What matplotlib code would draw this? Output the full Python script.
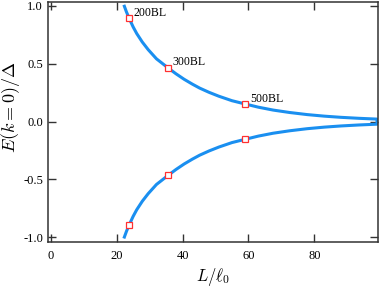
import numpy as np
import matplotlib
matplotlib.use("Agg")
import matplotlib.pyplot as plt

plt.rcParams['font.family'] = ['Liberation Serif', 'DejaVu Serif']
plt.rcParams['mathtext.fontset'] = 'cm'
plt.rcParams['axes.unicode_minus'] = False

# upper branch of the level (lower branch is its mirror)
length = [22.2, 23.0, 23.8, 25.0, 26.1, 27.8, 29.6, 32.1, 35.6, 38.0,
          40.5, 43.0, 45.2, 48.0, 51.0, 55.0, 59.1, 63.0, 67.5, 72.5,
          77.8, 83.0, 88.0, 93.5, 99.0]
energy = [1.01, 0.948, 0.894, 0.82, 0.762, 0.688, 0.622, 0.543, 0.465, 0.414,
          0.366, 0.324, 0.29, 0.254, 0.22, 0.181, 0.152, 0.125, 0.100, 0.079,
          0.061, 0.0475, 0.0374, 0.0288, 0.022]

# sample sizes marked on the curve
marker_L = [23.8, 35.6, 59.1]
marker_E = [0.894, 0.465, 0.152]
marker_labels = ['200BL', '300BL', '500BL']

x_ticks = [0, 20, 40, 60, 80]
y_ticks = [-1.0, -0.5, 0.0, 0.5, 1.0]

L = np.array(length)
E = np.array(energy)
# one closed path: upper branch out to the right, lower branch back
path_L = np.concatenate([L, L[::-1]])
path_E = np.concatenate([E, -E[::-1]])

fig = plt.figure(figsize=(3.82, 2.87), dpi=100)
ax = fig.add_axes([0.1257, 0.1578, 0.9887 - 0.1257, 0.9913 - 0.1578])

ax.plot(path_L, path_E, color='#1a8ff0', lw=2.2, solid_joinstyle='round',
        solid_capstyle='butt', zorder=2)

mL = np.array(marker_L)
mE = np.array(marker_E)
ax.plot(np.concatenate([mL, mL]), np.concatenate([mE, -mE]), ls='none',
        marker='s', ms=5, mfc='white', mec='#ff3030', mew=0.9, zorder=3)

for xv, yv, lab in zip(marker_L, marker_E, marker_labels):
    ax.annotate(lab, (xv, yv), xytext=(3.5, 1.8), textcoords='offset points',
                ha='left', va='baseline', fontsize=8.5)

ax.set_xlim(-0.8, 99.2)
ax.set_ylim(-1.038, 1.03)
ax.set_xticks(x_ticks)
ax.set_yticks(y_ticks)
ax.set_yticklabels(['%.1f' % v for v in y_ticks])
ax.tick_params(direction='in', length=6, width=1, top=True, right=True,
               labelsize=9, color='#333333')
ax.tick_params(axis='x', pad=6)
ax.tick_params(axis='y', pad=3.5)
for s in ax.spines.values():
    s.set_linewidth(1.1)
    s.set_color('#333333')

ax.set_xlabel(r'$L/\ell_0$', fontsize=12)
ax.set_ylabel(r'$E(k=0)/\Delta$', fontsize=13)
ax.xaxis.set_label_coords(0.5, -0.1)
ax.yaxis.set_label_coords(-0.078, 0.56)

fig.savefig('out.png', dpi=100)
